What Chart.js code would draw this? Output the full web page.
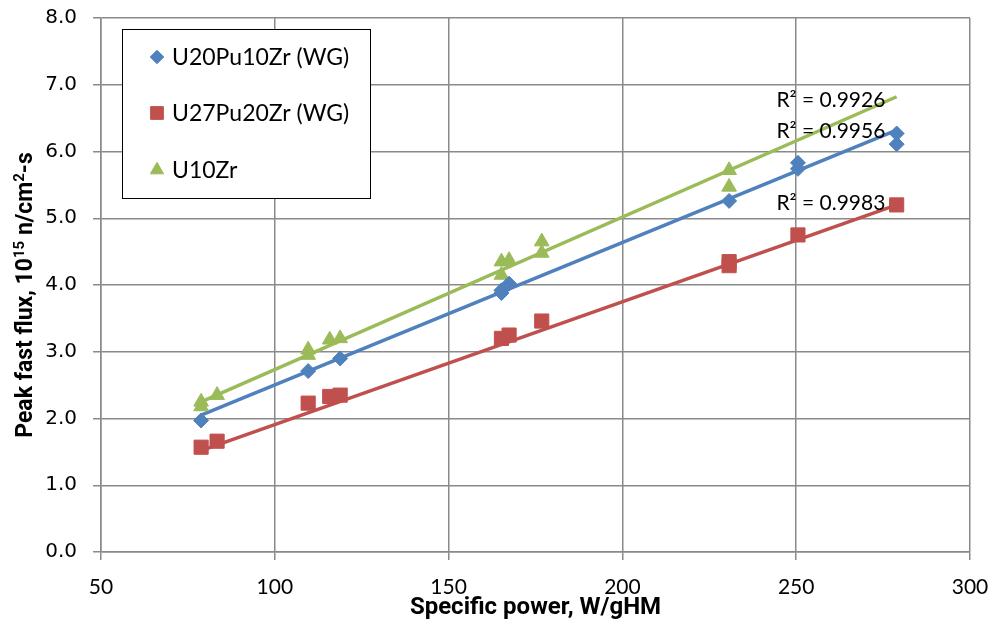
<!DOCTYPE html>
<html>
<head>
<meta charset="utf-8">
<script src="https://cdn.jsdelivr.net/npm/chart.js@4/dist/chart.umd.min.js"></script>
<style>
  html, body { margin: 0; padding: 0; background: #fff; }
  #wrap { width: 992px; height: 629px; }
</style>
</head>
<body>
<div id="wrap"><canvas id="fluxChart" width="992" height="629"></canvas></div>
<script>
// Peak fast flux vs specific power, three fuel types with linear fits

const xTicks = [50, 100, 150, 200, 250, 300];
const yTicks = [0, 1, 2, 3, 4, 5, 6, 7, 8];

const seriesNames = ['U20Pu10Zr (WG)', 'U27Pu20Zr (WG)', 'U10Zr'];

// U20Pu10Zr (WG)
const puZr10X = [78.8, 109.6, 118.8, 165.2, 167.4, 165.2, 230.7, 250.5, 250.5, 278.9, 278.9];
const puZr10Y = [1.97, 2.71, 2.90, 3.92, 4.02, 3.88, 5.26, 5.83, 5.74, 6.27, 6.11];

// U27Pu20Zr (WG)
const puZr20X = [78.8, 83.4, 109.6, 115.8, 118.8, 165.2, 167.4, 176.8, 230.7, 230.7, 250.5, 278.9];
const puZr20Y = [1.57, 1.66, 2.23, 2.33, 2.35, 3.20, 3.25, 3.46, 4.29, 4.35, 4.75, 5.20];

// U10Zr
const uZrX = [78.8, 78.8, 83.4, 109.6, 109.6, 115.8, 118.8, 165.2, 165.2, 167.4, 176.8, 176.8, 230.7, 230.7];
const uZrY = [2.18, 2.25, 2.35, 2.95, 3.03, 3.18, 3.20, 4.15, 4.35, 4.37, 4.48, 4.65, 5.47, 5.72];

// linear trendline end points
const fitX = [78.8, 278.9];
const puZr10Fit = [2.05, 6.32];
const puZr20Fit = [1.52, 5.20];
const uZrFit = [2.25, 6.82];

const r2Labels = ['R\u00b2 = 0.9926', 'R\u00b2 = 0.9956', 'R\u00b2 = 0.9983'];

const colors = ['#4F81BD', '#C0504D', '#9BBB59'];
const shapes = ['rectRot', 'rect', 'triangle'];
const radii = [7.5, 10, 8.5];

function pts(xs, ys) {
    return xs.map((x, i) => ({ x: x, y: ys[i] }));
}

const gridColor = '#8a8a8a';
const titleFont = '"Liberation Sans Narrow", "Roboto", sans-serif';

// legend box, R2 labels and axis titles (with superscripts)
const annotations = {
    id: 'annotations',
    afterDraw(chart) {
        const ctx = chart.ctx;
        const xs = chart.scales.x;
        const ys = chart.scales.y;
        ctx.save();

        // legend
        ctx.fillStyle = '#fff';
        ctx.fillRect(122, 29, 248, 169);
        ctx.strokeStyle = '#000';
        ctx.lineWidth = 1;
        ctx.strokeRect(122.5, 29.5, 248, 169);
        const rows = [57, 113, 170];
        ctx.font = '23px Lato';
        ctx.textBaseline = 'middle';
        seriesNames.forEach((name, i) => {
            ctx.fillStyle = colors[i];
            ctx.strokeStyle = colors[i];
            Chart.helpers.drawPoint(ctx, { pointStyle: shapes[i], radius: radii[i] * 0.9, borderWidth: 1 }, 157, rows[i]);
            ctx.fillStyle = '#000';
            ctx.fillText(name, 172, rows[i] + 1);
        });

        // R squared labels
        ctx.font = '21px Lato';
        ctx.fillStyle = '#000';
        ctx.textAlign = 'left';
        const r2Pos = [6.77, 6.30, 5.23];
        r2Labels.forEach((t, i) => {
            ctx.fillText(t, xs.getPixelForValue(244.3), ys.getPixelForValue(r2Pos[i]));
        });

        // x title
        ctx.font = 'bold 24px ' + titleFont;
        ctx.textAlign = 'center';
        ctx.textBaseline = 'middle';
        ctx.fillText('Specific power, W/gHM', (xs.left + xs.right) / 2, 608);

        // y title with superscripts
        const parts = [
            { t: 'Peak fast flux, 10', sup: false },
            { t: '15', sup: true },
            { t: ' n/cm', sup: false },
            { t: '2', sup: true },
            { t: '-s', sup: false }
        ];
        const big = 'bold 23px ' + titleFont;
        const small = 'bold 15px ' + titleFont;
        let total = 0;
        parts.forEach(p => {
            ctx.font = p.sup ? small : big;
            p.w = ctx.measureText(p.t).width;
            total += p.w;
        });
        ctx.translate(24, 295);
        ctx.rotate(-Math.PI / 2);
        ctx.textAlign = 'left';
        ctx.textBaseline = 'alphabetic';
        let cx = -total / 2;
        parts.forEach(p => {
            ctx.font = p.sup ? small : big;
            ctx.fillText(p.t, cx, p.sup ? 0 : 8);
            cx += p.w;
        });
        ctx.restore();
    }
};

const ctx = document.getElementById('fluxChart').getContext('2d');

const scatterSets = [[puZr10X, puZr10Y], [puZr20X, puZr20Y], [uZrX, uZrY]].map((d, i) => ({
    type: 'scatter',
    label: seriesNames[i],
    data: pts(d[0], d[1]),
    pointStyle: shapes[i],
    pointRadius: radii[i],
    backgroundColor: colors[i],
    borderColor: colors[i],
    borderWidth: 1,
    order: 1
}));

const fitSets = [puZr10Fit, puZr20Fit, uZrFit].map((f, i) => ({
    type: 'line',
    label: seriesNames[i] + ' fit',
    data: pts(fitX, f),
    borderColor: colors[i],
    borderWidth: 3.5,
    pointRadius: 0,
    fill: false,
    order: 2
}));

new Chart(ctx, {
    data: { datasets: scatterSets.concat(fitSets) },
    options: {
        responsive: false,
        animation: false,
        layout: { padding: { top: 18, right: 22, left: 0, bottom: 0 } },
        plugins: {
            legend: { display: false },
            tooltip: { enabled: false }
        },
        scales: {
            x: {
                type: 'linear',
                min: 50,
                max: 300,
                afterBuildTicks: s => { s.ticks = xTicks.map(v => ({ value: v })); },
                afterFit: s => {
                    s.height = 77;
                    s.paddingLeft = 0;
                    s.paddingRight = 0;
                },
                grid: { color: gridColor, lineWidth: 1.5, tickLength: 8 },
                border: { color: gridColor, width: 1.5 },
                ticks: {
                    color: '#000',
                    padding: 15,
                    maxRotation: 0,
                    font: { family: 'Lato', size: 21 }
                }
            },
            y: {
                type: 'linear',
                min: 0,
                max: 8,
                afterBuildTicks: s => { s.ticks = yTicks.map(v => ({ value: v })); },
                afterFit: s => {
                    s.width = 101;
                    s.paddingTop = 0;
                    s.paddingBottom = 0;
                },
                grid: { color: gridColor, lineWidth: 1.5, tickLength: 8 },
                border: { color: gridColor, width: 1.5 },
                ticks: {
                    color: '#000',
                    padding: 16,
                    font: { family: 'DejaVu Sans', size: 20 },
                    callback: v => v.toFixed(1)
                }
            }
        }
    },
    plugins: [annotations]
});
</script>
</body>
</html>
